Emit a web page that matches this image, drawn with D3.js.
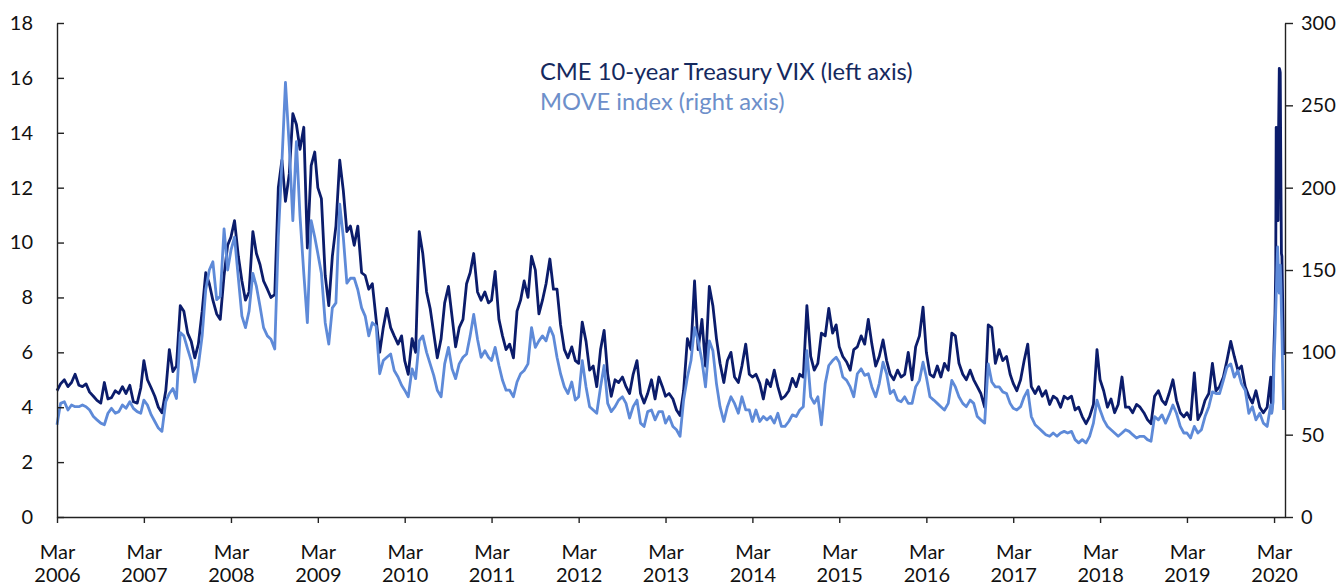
<!DOCTYPE html>
<html><head><meta charset="utf-8">
<script src="https://cdn.jsdelivr.net/npm/d3@7"></script>
<style>
body{margin:0;background:#fff;}
svg{display:block;font-family:Lato,"Noto Sans",sans-serif;}
</style></head><body>
<svg id="chart" width="1339" height="586"></svg>
<script>
// Semi-monthly readings (1st and 16th of each month), Mar 2006 .. Feb 2020
const vixValues = [
 4.6,4.85,5.0,4.75,4.9,5.2,4.8,4.75,4.85,4.55,4.4,4.25,4.15,4.9,4.3,4.35,4.6,4.5,4.75,4.5,4.8,4.2,4.15,4.7,
 5.7,5.0,4.7,4.4,4.0,3.8,4.6,6.1,5.3,5.5,7.7,7.5,6.7,6.4,5.8,6.3,7.5,8.9,8.5,7.9,7.4,7.2,8.8,9.9,
 10.2,10.8,9.5,8.6,7.9,8.2,10.4,9.6,9.2,8.6,8.3,8.0,8.1,12.0,13.0,11.5,12.5,14.7,14.3,13.4,14.2,9.8,12.8,13.3,
 12.0,11.6,8.8,7.7,9.5,10.6,13.0,11.9,10.4,10.6,9.9,10.6,8.9,8.8,8.3,8.5,7.2,6.0,6.9,7.6,6.9,6.6,6.3,6.6,
 5.7,5.2,6.5,6.0,10.4,9.6,8.2,7.6,6.7,5.8,6.5,7.8,8.4,7.3,6.2,6.9,7.2,8.5,8.9,9.6,8.2,7.9,8.2,7.8,
 7.9,8.95,7.2,6.6,6.1,6.3,5.8,7.5,7.9,8.6,8.0,9.5,9.0,7.4,7.9,8.5,9.4,8.3,8.3,7.0,6.1,5.8,6.2,5.7,
 5.6,7.1,6.4,5.35,5.5,4.75,6.1,6.8,5.2,4.4,5.0,4.9,5.1,4.75,4.5,5.2,5.7,4.5,4.15,4.5,5.0,4.3,5.1,4.75,
 4.4,4.5,4.3,3.9,3.7,4.6,6.5,6.1,8.6,6.1,7.2,5.5,8.4,7.7,6.5,5.6,4.9,5.7,6.0,5.1,4.9,5.5,6.3,5.2,
 5.1,5.2,4.87,4.3,5.0,4.75,5.35,4.75,4.3,4.4,4.6,5.05,4.75,5.2,5.1,7.7,5.85,5.35,5.6,6.7,6.6,7.6,6.7,7.0,
 6.2,5.85,5.65,5.35,6.1,6.2,6.6,6.3,7.2,6.3,5.5,5.85,6.45,5.7,5.2,5.0,5.35,5.1,5.2,6.0,5.0,6.2,6.6,7.65,
 6.0,5.2,5.1,5.5,5.1,5.6,5.35,6.7,6.6,5.6,5.2,5.0,5.35,5.0,4.75,4.5,4.0,7.0,6.9,5.6,6.1,5.7,5.85,5.2,
 4.87,4.6,5.0,5.7,6.3,4.75,4.5,4.75,4.4,4.6,4.1,4.4,4.3,4.0,4.4,4.3,4.4,3.9,4.0,3.66,3.4,3.66,4.1,6.1,
 5.0,4.6,4.0,4.3,3.8,4.1,5.1,4.0,4.0,3.8,4.1,4.0,3.8,3.55,3.4,4.4,4.6,4.25,4.1,4.5,5.0,4.25,3.8,3.65,
 3.8,3.55,5.25,3.55,3.8,4.25,4.5,5.6,4.6,4.75,5.1,5.7,6.4,5.85,5.35,5.5,4.75,4.4,4.15,4.6,4.0,3.8,4.0,5.1
];
const moveValues = [
 56,69,70,65,68,67,67,68,67,65,61,59,57,56,63,66,63,64,68,66,70,66,64,63,
 71,68,62,58,54,52,70,75,78,72,112,110,102,95,82,92,110,138,150,155,132,134,175,150,
 162,170,145,122,115,125,148,140,128,115,110,108,102,170,215,264,225,180,228,183,148,118,180,170,
 160,148,118,105,127,130,190,170,142,145,145,138,127,122,110,118,116,87,95,97,99,89,85,80,
 77,73,90,84,107,110,100,93,86,77,73,93,103,90,84,93,97,99,110,123,108,97,101,97,
 95,103,92,83,77,77,73,82,87,89,93,115,103,107,110,107,115,110,97,87,79,75,82,71,
 73,95,79,67,65,63,79,92,69,64,67,71,73,69,60,67,71,57,55,64,65,59,64,64,
 57,61,55,53,49,71,85,95,115,107,95,79,107,101,81,67,58,67,73,69,63,73,65,65,
 58,65,58,61,59,61,57,63,55,55,58,62,61,65,67,101,73,69,73,56,81,92,95,97,
 94,85,83,79,73,87,90,86,87,79,73,81,94,87,75,77,71,70,73,69,69,79,83,94,
 85,73,71,69,67,65,69,83,79,73,69,67,71,69,61,59,57,93,82,79,79,76,75,69,
 66,65,67,73,77,61,56,54,52,50,49,51,49,51,52,51,52,47,45,47,45,49,57,71,
 65,59,55,53,51,49,51,53,52,50,48,49,49,47,46,61,59,62,57,62,68,63,55,51,
 51,48,55,51,53,61,67,76,75,75,83,91,93,85,89,81,77,63,67,59,63,57,55,68
];
// Finer readings for the final weeks (Feb-Apr 2020)
const tailDates = ["2020-02-20","2020-02-26","2020-03-01","2020-03-05","2020-03-08","2020-03-10","2020-03-13","2020-03-16","2020-03-18","2020-03-20","2020-03-23","2020-03-25","2020-03-27","2020-03-30","2020-04-01","2020-04-03","2020-04-06","2020-04-10"];
const vixTail  = [3.8,4.8,6.3,7.4,9.0,14.2,12.5,11.0,10.8,14.0,16.35,16.3,16.2,12.0,9.6,9.5,8.0,5.9];
const moveTail = [63,70,95,110,125,135,150,164,155,140,136,145,153,140,125,113,90,65];

const yearLabels = [2006,2007,2008,2009,2010,2011,2012,2013,2014,2015,2016,2017,2018,2019,2020];
const leftTicks = [0,2,4,6,8,10,12,14,16,18];
const rightTicks = [0,50,100,150,200,250,300];
const legendLabels = ["CME 10-year Treasury VIX (left axis)","MOVE index (right axis)"];

const DARK = "#0b1c6b", LIGHT = "#5e8ad8";
const svg = d3.select("#chart");
const parse = d3.timeParse("%Y-%m-%d");

function build(vals, tailVals){
  const pts = vals.map((v,i)=>({date:new Date(2006, 2+Math.floor(i/2), i%2?16:1), v}));
  tailDates.forEach((d,i)=>pts.push({date:parse(d), v:tailVals[i]}));
  return pts;
}
const vixData = build(vixValues, vixTail);
const moveData = build(moveValues, moveTail);

const x = d3.scaleTime().domain([new Date(2006,2,1), new Date(2020,3,16)]).range([57,1285]);
const yL = d3.scaleLinear().domain([0,18]).range([517,23]);
const yR = d3.scaleLinear().domain([0,300]).range([517,23]);

// lines
svg.append("path").datum(vixData).attr("fill","none").attr("stroke",DARK).attr("stroke-width",2.8)
  .attr("stroke-linejoin","round").attr("d", d3.line().x(d=>x(d.date)).y(d=>yL(d.v)));
svg.append("path").datum(moveData).attr("fill","none").attr("stroke",LIGHT).attr("stroke-width",2.8)
  .attr("stroke-linejoin","round").attr("d", d3.line().x(d=>x(d.date)).y(d=>yR(d.v)));

function styleAxis(g){
  g.attr("font-family","Lato, 'Noto Sans', sans-serif").attr("font-size",20);
  g.selectAll("path,line").attr("stroke","#222").attr("stroke-width",1.4);
  g.selectAll("text").attr("fill","#111");
}

// left axis
svg.append("g").attr("transform","translate(57,0)")
  .call(d3.axisLeft(yL).tickValues(leftTicks).tickSize(-7).tickSizeOuter(0).tickPadding(24))
  .call(styleAxis);
// right axis
svg.append("g").attr("transform","translate(1285,0)")
  .call(d3.axisRight(yR).tickValues(rightTicks).tickSize(8).tickSizeOuter(0).tickPadding(8))
  .call(styleAxis);
// bottom axis
const gx = svg.append("g").attr("transform","translate(0,517)")
  .call(d3.axisBottom(x).tickValues(yearLabels.map(y=>new Date(y,2,1))).tickSize(6).tickSizeOuter(0).tickFormat(()=>""))
  .call(styleAxis);
gx.selectAll(".tick text").each(function(d){
  const t = d3.select(this).attr("dy",null).attr("y",null);
  t.text(null);
  t.append("tspan").attr("x",0).attr("y",42).text("Mar");
  t.append("tspan").attr("x",0).attr("y",65).text(d.getFullYear());
});

// legend
const leg = svg.append("g").attr("font-family","Lato, 'Noto Sans', sans-serif");
const t1 = leg.append("text").attr("x",540).attr("y",80).attr("fill","#15295e").attr("font-size",21).text(legendLabels[0]);
const t2 = leg.append("text").attr("x",540).attr("y",110).attr("fill","#6d8fca").attr("font-size",21).text(legendLabels[1]);
const w = t1.node().getComputedTextLength();
const fs = 21*373/w;
t1.attr("font-size",fs); t2.attr("font-size",fs);
</script>
</body></html>
